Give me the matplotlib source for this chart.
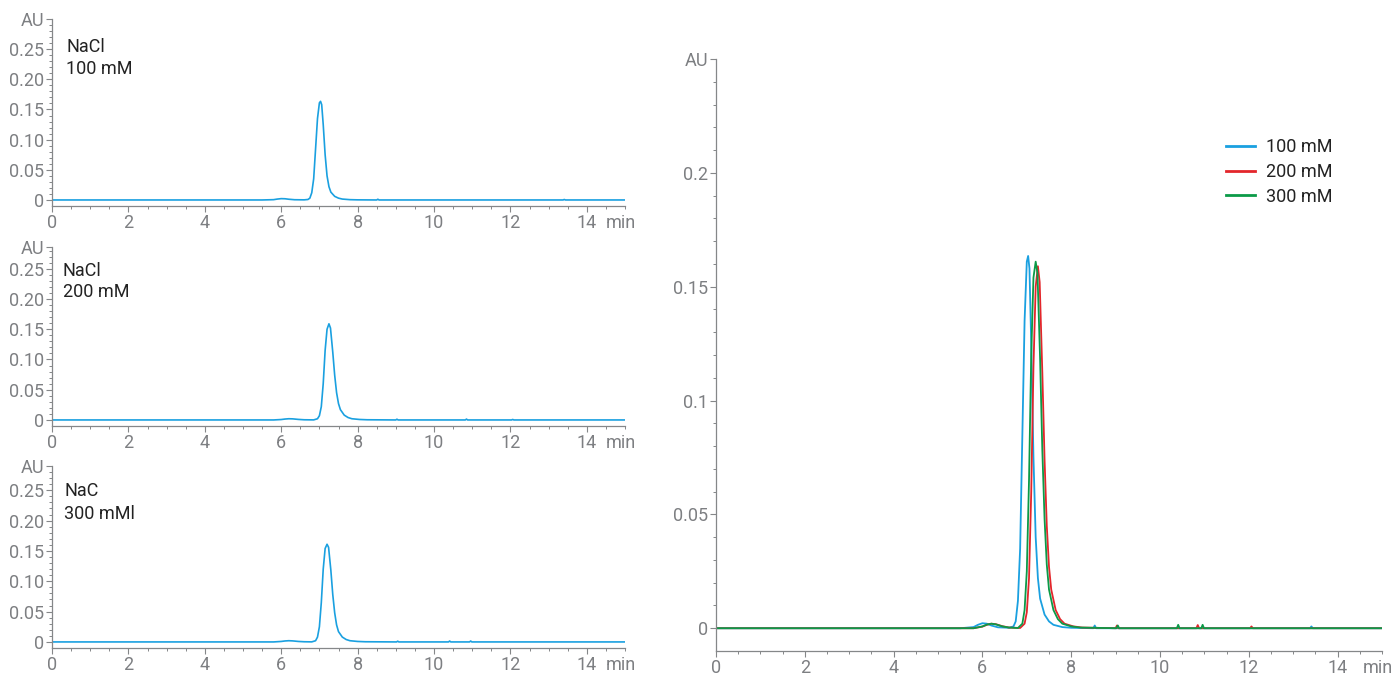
import matplotlib.pyplot as plt
import numpy as np
from matplotlib.ticker import MultipleLocator, FixedLocator

plt.rcParams['font.family'] = ['Roboto', 'DejaVu Sans']

# chromatograms: (retention time in min, absorbance in AU)
trace_100 = np.array([
    (0.0, 0.0), (5.5, 0.0), (5.8, 0.0005), (5.9, 0.0015), (6.0, 0.0022),
    (6.1, 0.002), (6.2, 0.0012), (6.35, 0.0004), (6.6, 0.0002), (6.7, 0.0008),
    (6.75, 0.003), (6.8, 0.012), (6.85, 0.035), (6.9, 0.085), (6.95, 0.135),
    (7.0, 0.161), (7.03, 0.1635), (7.06, 0.158), (7.1, 0.125), (7.15, 0.075),
    (7.2, 0.04), (7.25, 0.022), (7.3, 0.013), (7.4, 0.006), (7.5, 0.003),
    (7.6, 0.0015), (7.8, 0.0005), (8.0, 0.0002), (8.5, 0.0), (8.53, 0.0012),
    (8.56, 0.0), (13.38, 0.0), (13.41, 0.0008), (13.44, 0.0), (15.0, 0.0),
])
trace_200 = np.array([
    (0.0, 0.0), (5.8, 0.0), (6.0, 0.0007), (6.1, 0.0015), (6.2, 0.002),
    (6.3, 0.0018), (6.45, 0.0009), (6.6, 0.0003), (6.85, 0.0001), (6.95, 0.002),
    (7.0, 0.007), (7.05, 0.022), (7.1, 0.06), (7.15, 0.115), (7.2, 0.15),
    (7.25, 0.159), (7.29, 0.152), (7.35, 0.112), (7.4, 0.074), (7.45, 0.045),
    (7.5, 0.027), (7.55, 0.017), (7.65, 0.008), (7.75, 0.004), (7.85, 0.002),
    (8.05, 0.0008), (8.25, 0.0003), (9.0, 0.0), (9.03, 0.0012), (9.06, 0.0),
    (10.82, 0.0), (10.85, 0.0014), (10.88, 0.0), (12.03, 0.0), (12.06, 0.0008),
    (12.09, 0.0), (15.0, 0.0),
])
trace_300 = np.array([
    (0.0, 0.0), (5.8, 0.0), (6.0, 0.0008), (6.1, 0.0016), (6.2, 0.002),
    (6.3, 0.0017), (6.45, 0.0008), (6.6, 0.0003), (6.8, 0.0001), (6.9, 0.002),
    (6.95, 0.008), (7.0, 0.025), (7.05, 0.065), (7.1, 0.12), (7.15, 0.154),
    (7.2, 0.161), (7.24, 0.156), (7.3, 0.118), (7.35, 0.078), (7.4, 0.048),
    (7.45, 0.028), (7.5, 0.017), (7.6, 0.008), (7.7, 0.004), (7.8, 0.002),
    (8.0, 0.0008), (8.2, 0.0003), (9.02, 0.0), (9.05, 0.0012), (9.08, 0.0),
    (10.38, 0.0), (10.41, 0.0015), (10.44, 0.0), (10.93, 0.0), (10.96, 0.0015),
    (10.99, 0.0), (15.0, 0.0),
])

series_labels = ['100 mM', '200 mM', '300 mM']
panel_text = [('NaCl', '100 mM'), ('NaCl', '200 mM'), ('NaC', '300 mMl')]
left_yticks = [0, 0.05, 0.10, 0.15, 0.20, 0.25]
left_ylabels = ['0', '0.05', '0.10', '0.15', '0.20', '0.25']
right_yticks = [0, 0.05, 0.1, 0.15, 0.2]
right_ylabels = ['0', '0.05', '0.1', '0.15', '0.2']

BLUE, RED, GREEN = '#1aa0e0', '#e3262b', '#0b9a48'
AXIS = '#858789'
TICK = '#7d7f82'
TEXT = '#222222'

W, H = 1395, 675
fig = plt.figure(figsize=(W / 100, H / 100), dpi=100)


def px_axes(left, top, right, bottom):
    return fig.add_axes([left / W, 1 - bottom / H, (right - left) / W, (bottom - top) / H])


def style_axes(ax, ymax, yticks, ylabels):
    ax.set_xlim(0, 15)
    ax.set_ylim(-0.01, ymax)
    for s in ('top', 'right'):
        ax.spines[s].set_visible(False)
    for s in ('left', 'bottom'):
        ax.spines[s].set_color(AXIS)
        ax.spines[s].set_linewidth(0.9)
    ax.set_xticks(range(0, 15, 2))
    ax.xaxis.set_minor_locator(MultipleLocator(0.5))
    ax.set_yticks(yticks + [ymax])
    ax.set_yticklabels(ylabels + ['AU'])
    ax.yaxis.set_minor_locator(FixedLocator(np.arange(0, ymax, 0.01)))
    ax.tick_params(which='major', length=4.5, width=0.8, color=AXIS,
                   labelcolor=TICK, labelsize=13, pad=1.0)
    ax.tick_params(which='minor', length=2.2, width=0.7, color=AXIS)
    ax.annotate('min', xy=(15, 0), xycoords=('data', 'axes fraction'),
                xytext=(-3, -5.5), textcoords='offset points',
                ha='center', va='top', fontsize=13, color=TICK)


# three stacked single runs on the left
left_boxes = [(19, 206, 0.3), (247, 426, 0.286), (466, 648, 0.29)]
text_pos = [(66, 52, 74), (63, 276, 297), (64, 496, 519)]
runs = [trace_100, trace_200, trace_300]

for (top, bottom, ymax), trace, lines, (tx, y1, y2) in zip(left_boxes, runs, panel_text, text_pos):
    ax = px_axes(52, top, 625, bottom)
    style_axes(ax, ymax, left_yticks, left_ylabels)
    ax.plot(trace[:, 0], trace[:, 1], color=BLUE, lw=1.2)
    fig.text(tx / W, 1 - y1 / H, lines[0], fontsize=13, color=TEXT, va='baseline')
    fig.text(tx / W, 1 - y2 / H, lines[1], fontsize=13, color=TEXT, va='baseline')

# overlay of all three runs
ax = px_axes(716, 59, 1382, 651)
style_axes(ax, 0.25, right_yticks, right_ylabels)
for trace, color, label in zip(runs, [BLUE, RED, GREEN], series_labels):
    ax.plot(trace[:, 0], trace[:, 1], color=color, lw=1.3, label=label)

leg = ax.legend(loc='upper left', bbox_to_anchor=(1226 / W, 1 - 138 / H),
                bbox_transform=fig.transFigure, frameon=False, fontsize=13,
                handlelength=1.6, handletextpad=0.6, labelspacing=0.38,
                borderpad=0, borderaxespad=0)
for h in leg.legend_handles:
    h.set_linewidth(2.0)
for t in leg.get_texts():
    t.set_color(TEXT)

fig.savefig('out.png', dpi=100)
